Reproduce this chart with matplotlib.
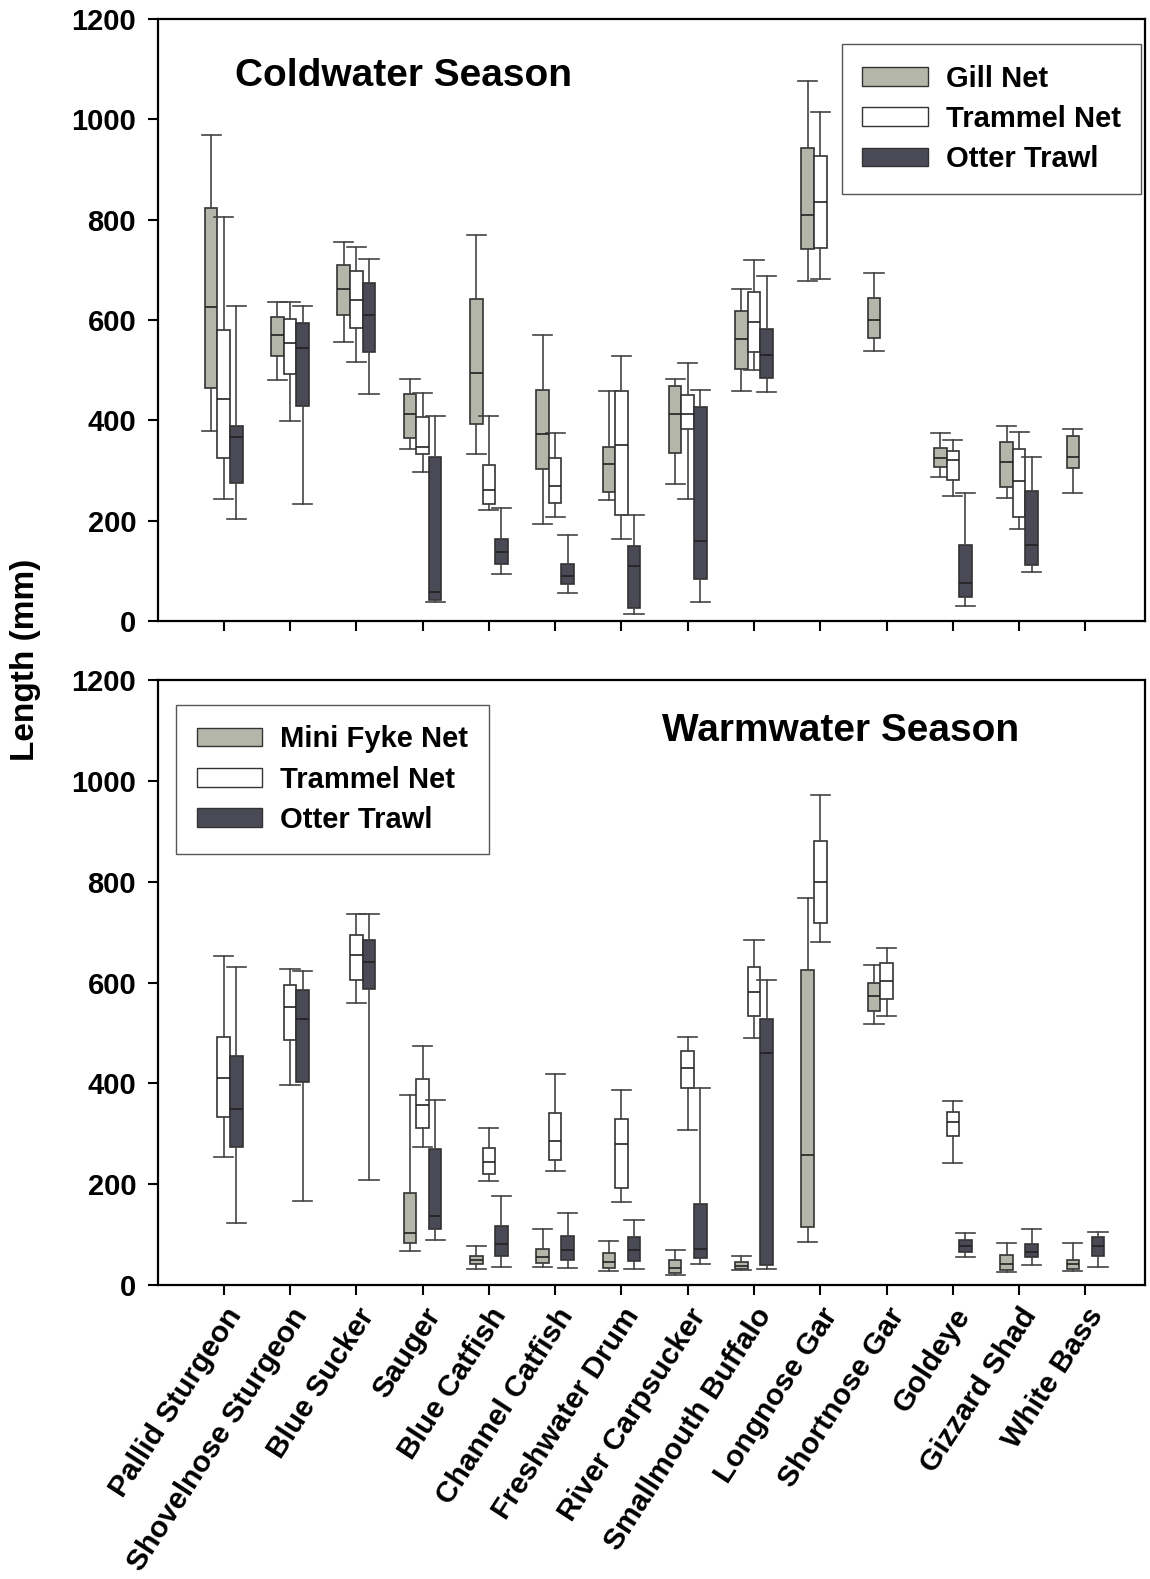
import matplotlib.pyplot as plt
from matplotlib.patches import Patch

plt.rcParams['font.family'] = ['Liberation Sans', 'DejaVu Sans']
plt.rcParams['font.weight'] = 'bold'

species = ['Pallid Sturgeon', 'Shovelnose Sturgeon', 'Blue Sucker', 'Sauger',
           'Blue Catfish', 'Channel Catfish', 'Freshwater Drum', 'River Carpsucker',
           'Smallmouth Buffalo', 'Longnose Gar', 'Shortnose Gar', 'Goldeye',
           'Gizzard Shad', 'White Bass']

# (low whisker, q1, median, q3, high whisker) in mm; None = gear did not catch it
cold_gill = [(379, 464, 625, 824, 968), (480, 529, 571, 606, 635), (557, 609, 661, 709, 756),
             (342, 364, 412, 453, 482), (333, 392, 494, 641, 770), (194, 303, 372, 460, 571),
             (241, 257, 313, 347, 458), (273, 334, 413, 468, 483), (458, 503, 562, 618, 662),
             (677, 741, 809, 942, 1077), (539, 564, 600, 644, 694), (288, 306, 325, 345, 374),
             (245, 268, 317, 356, 388), (255, 304, 327, 369, 383)]
cold_trammel = [(244, 324, 443, 581, 805), (399, 492, 555, 602, 635), (516, 585, 639, 698, 746),
                (297, 332, 347, 407, 454), (221, 234, 262, 311, 409), (207, 236, 270, 324, 374),
                (163, 212, 351, 458, 529), (243, 383, 413, 451, 515), (501, 537, 596, 656, 719),
                (681, 744, 835, 927, 1015), None, (250, 282, 321, 338, 360),
                (184, 207, 280, 343, 377), None]
cold_otter = [(203, 275, 367, 388, 628), (234, 429, 545, 594, 628), (452, 537, 609, 674, 721),
              (37, 41, 58, 327, 409), (93, 113, 137, 164, 225), (55, 73, 90, 113, 172),
              (14, 25, 109, 149, 212), (37, 84, 160, 427, 460), (456, 484, 530, 583, 688),
              None, None, (29, 48, 75, 151, 256), (98, 111, 151, 259, 326), None]

warm_fyke = [None, None, None, (67, 83, 104, 183, 376), (32, 41, 49, 57, 78),
             (36, 43, 55, 71, 112), (27, 34, 45, 63, 87), (19, 24, 33, 50, 69),
             (29, 31, 37, 46, 57), (86, 115, 258, 624, 768), (518, 543, 573, 600, 634),
             None, (25, 29, 42, 59, 83), (28, 32, 42, 50, 83)]
warm_trammel = [(253, 333, 410, 492, 653), (396, 486, 552, 596, 627), (560, 605, 654, 694, 736),
                (274, 312, 357, 409, 475), (206, 221, 243, 272, 312), (226, 247, 286, 341, 419),
                (164, 193, 279, 329, 387), (307, 391, 431, 464, 491), (490, 534, 581, 630, 685),
                (681, 719, 800, 880, 973), (533, 568, 604, 638, 668), (242, 295, 323, 344, 365),
                None, None]
warm_otter = [(123, 274, 349, 454, 630), (167, 403, 528, 585, 622), (209, 587, 641, 685, 736),
              (90, 112, 137, 269, 367), (36, 57, 81, 117, 176), (33, 50, 70, 97, 142),
              (32, 48, 70, 95, 129), (41, 53, 72, 160, 391), (31, 39, 460, 528, 606),
              None, None, (55, 66, 78, 90, 104), (39, 55, 65, 81, 111), (36, 57, 78, 95, 106)]

cold_gears = ['Gill Net', 'Trammel Net', 'Otter Trawl']
warm_gears = ['Mini Fyke Net', 'Trammel Net', 'Otter Trawl']
colors = ['#b5b6aa', '#ffffff', '#4a4a56']
offsets = [-0.19, 0.0, 0.19]

fig = plt.figure(figsize=(11.5, 15.79), dpi=100)
ax1 = fig.add_axes([0.1378, 0.6067, 0.8579, 0.3813])
ax2 = fig.add_axes([0.1378, 0.1862, 0.8579, 0.3831])


def draw_panel(ax, series, gears):
    for g, data in enumerate(series):
        stats, pos = [], []
        for i, s in enumerate(data):
            if s is None:
                continue
            lo, q1, med, q3, hi = s
            stats.append(dict(whislo=lo, q1=q1, med=med, q3=q3, whishi=hi, fliers=[]))
            pos.append(i + 1 + offsets[g])
        ax.bxp(stats, positions=pos, widths=0.19, capwidths=0.29, patch_artist=True,
               showfliers=False, manage_ticks=False,
               boxprops=dict(facecolor=colors[g], edgecolor='#333333', linewidth=1.2),
               whiskerprops=dict(color='#444444', linewidth=1.2),
               capprops=dict(color='#444444', linewidth=1.2),
               medianprops=dict(color='#222222', linewidth=1.2))
    ax.set_xlim(0.015, 14.9)
    ax.set_ylim(0, 1200)
    ax.set_yticks(range(0, 1201, 200))
    ax.set_xticks(range(1, len(species) + 1))
    ax.tick_params(direction='out', length=7, width=1.5, labelsize=21, pad=9)
    for sp in ax.spines.values():
        sp.set_linewidth(1.6)
    handles = [Patch(facecolor=c, edgecolor='#333333', linewidth=1.0) for c in colors]
    return handles


h1 = draw_panel(ax1, [cold_gill, cold_trammel, cold_otter], cold_gears)
h2 = draw_panel(ax2, [warm_fyke, warm_trammel, warm_otter], warm_gears)

ax1.set_xticklabels([])
ax2.set_xticklabels(species, rotation=57, ha='right', va='top', rotation_mode='anchor')
ax2.tick_params(axis='x', pad=6, labelsize=21.5)

leg_kw = dict(fontsize=21, handlelength=2.25, handleheight=0.6, handletextpad=0.62,
              labelspacing=0.42, borderpad=0.7, borderaxespad=0, fancybox=False,
              framealpha=1, edgecolor='#555555')
l1 = ax1.legend(h1, cold_gears, loc='upper right', bbox_to_anchor=(0.996, 0.958), **leg_kw)
l2 = ax2.legend(h2, warm_gears, loc='upper left', bbox_to_anchor=(0.018, 0.959), **leg_kw)
for l in (l1, l2):
    l.get_frame().set_linewidth(1.0)

ax1.text(0.078, 0.906, 'Coldwater Season', transform=ax1.transAxes, fontsize=28,
         fontweight='bold', va='center', ha='left')
ax2.text(0.51, 0.916, 'Warmwater Season', transform=ax2.transAxes, fontsize=28,
         fontweight='bold', va='center', ha='left')

fig.text(0.022, 0.582, 'Length (mm)', rotation=90, fontsize=24, fontweight='bold',
         va='center', ha='center')

fig.savefig('out.png', dpi=100)
